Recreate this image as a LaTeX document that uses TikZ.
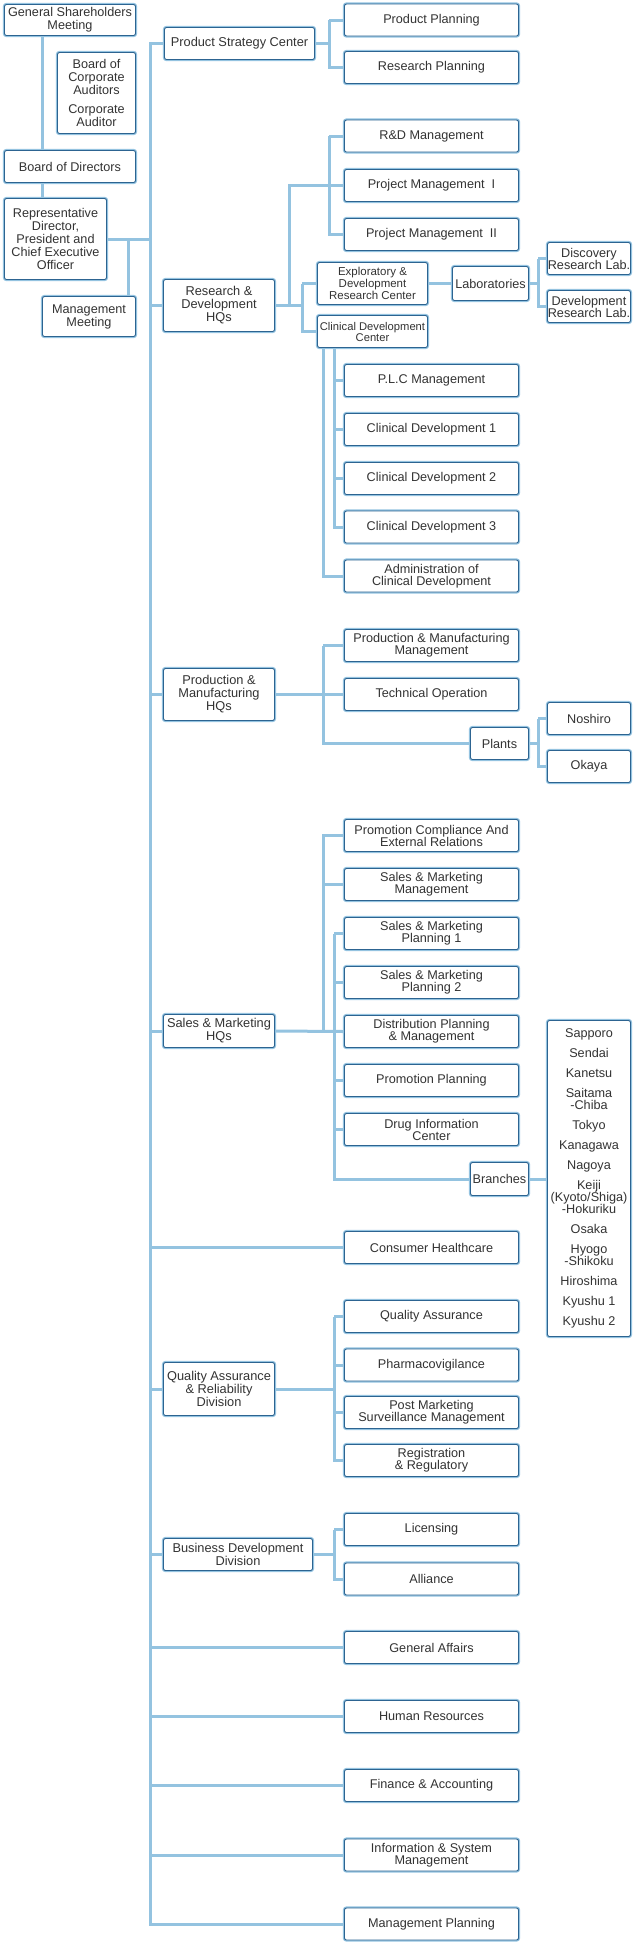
\documentclass[tikz,border=0pt]{standalone}
\usepackage{fontspec}
\setmainfont{Liberation Sans}
\usepackage{tikz}
\definecolor{orgline}{RGB}{148,195,224}
\definecolor{orgedge}{RGB}{45,100,145}
\definecolor{orgtext}{RGB}{51,51,51}
\begin{document}
\begin{tikzpicture}[
  x=0.75pt, y=-0.75pt,
  sz/.style 2 args={minimum width=#1*0.75pt, minimum height=#2*0.75pt},
  unit/.style={draw=orgedge, line width=0.7pt, preaction={draw=orgline, line width=2.4pt}, fill=white, rounded corners=1.5pt, text=orgtext, align=center, inner sep=0pt, font=\fontsize{9.5}{9}\selectfont},
  top/.style={unit, font=\fontsize{9.5}{9.75}\selectfont},
  hq/.style={unit, font=\fontsize{9.6}{9.75}\selectfont},
  dept/.style={unit, sz={174}{32}},
  small/.style={unit, font=\fontsize{8.6}{7.5}\selectfont},
  conn/.style={draw=orgline, line width=2.25pt}
]
\useasboundingbox (0,0) rectangle (634,1943);
\node[top, sz={131}{31}] (gsm) at (70,20) {General Shareholders\\Meeting};
\node[top, sz={78}{81}] (bca) at (96.5,93) {Board of\\Corporate\\Auditors\\[4pt]Corporate\\Auditor};
\node[top, sz={131}{32}] (bod) at (70,166.5) {Board of Directors};
\node[top, sz={102}{81}] (rd) at (55.5,239) {Representative\\Director,\\President and\\Chief Executive\\Officer};
\node[top, sz={93}{40}] (mm) at (89,316.5) {Management\\Meeting};
\node[hq, sz={150}{32}] (psc) at (239.5,43.5) {Product Strategy Center};
\node[dept] (pp) at (431.5,20) {Product Planning};
\node[dept] (rp) at (431.5,67.5) {Research Planning};
\node[hq, sz={111}{52}] (rnd) at (219,305.5) {Research \&\\Development\\HQs};
\node[dept] (rdm) at (431.5,136) {R\&D Management};
\node[dept] (pm1) at (431.5,185.5) {Project Management~~I};
\node[dept] (pm2) at (431.5,234.5) {Project Management~~II};
\node[small, sz={110}{42}] (edrc) at (372.5,283.5) {Exploratory \&\\Development\\Research Center};
\node[unit, font=\fontsize{8.4}{8.25}\selectfont, sz={110}{32}] (cdc) at (372.5,331.5) {Clinical Development\\Center};
\node[unit, sz={76}{34}] (labs) at (490.5,283.5) {Laboratories};
\node[unit, sz={83}{32}] (drl) at (589,258.5) {Discovery\\Research Lab.};
\node[unit, sz={83}{32}] (devl) at (589,306.5) {Development\\Research Lab.};
\node[dept] (plc) at (431.5,380.5) {P.L.C Management};
\node[dept] (cd1) at (431.5,429.5) {Clinical Development 1};
\node[dept] (cd2) at (431.5,478.5) {Clinical Development 2};
\node[dept] (cd3) at (431.5,527) {Clinical Development 3};
\node[dept] (acd) at (431.5,576) {Administration of\\Clinical Development};
\node[hq, sz={111}{52}] (pmhq) at (219,694.5) {Production \&\\Manufacturing\\HQs};
\node[dept] (pmm) at (431.5,645.5) {Production \& Manufacturing\\Management};
\node[dept] (tec) at (431.5,694.5) {Technical Operation};
\node[unit, sz={58}{32}] (plants) at (499.5,743.5) {Plants};
\node[unit, sz={83}{32}] (nos) at (589,718.5) {Noshiro};
\node[unit, sz={83}{32}] (oka) at (589,766.5) {Okaya};
\node[hq, sz={111}{33}] (smhq) at (219,1031) {Sales \& Marketing\\HQs};
\node[dept] (pcer) at (431.5,835.5) {Promotion Compliance And\\External Relations};
\node[dept] (smm) at (431.5,884.5) {Sales \& Marketing\\Management};
\node[dept] (smp1) at (431.5,933.5) {Sales \& Marketing\\Planning 1};
\node[dept] (smp2) at (431.5,982.5) {Sales \& Marketing\\Planning 2};
\node[dept] (dpm) at (431.5,1031.5) {Distribution Planning\\\& Management};
\node[dept] (ppl) at (431.5,1080.5) {Promotion Planning};
\node[dept] (dic) at (431.5,1129.5) {Drug Information\\Center};
\node[unit, sz={58}{33}] (branches) at (499.5,1179) {Branches};
\node[unit, sz={83}{316}] (blist) at (589,1178.5) {Sapporo\\[6pt]Sendai\\[6pt]Kanetsu\\[6pt]Saitama\\-Chiba\\[6pt]Tokyo\\[6pt]Kanagawa\\[6pt]Nagoya\\[6pt]Keiji\\(Kyoto/Shiga)\\-Hokuriku\\[6pt]Osaka\\[6pt]Hyogo\\-Shikoku\\[6pt]Hiroshima\\[6pt]Kyushu 1\\[6pt]Kyushu 2};
\node[dept] (ch) at (431.5,1247.5) {Consumer Healthcare};
\node[hq, sz={111}{53}] (qard) at (219,1389) {Quality Assurance\\\& Reliability\\Division};
\node[dept] (qa) at (431.5,1316.5) {Quality Assurance};
\node[dept] (pv) at (431.5,1365) {Pharmacovigilance};
\node[dept] (pms) at (431.5,1412.5) {Post Marketing\\Surveillance Management};
\node[dept] (rr) at (431.5,1460.5) {Registration\\\& Regulatory};
\node[hq, sz={149}{32}] (bdd) at (238,1554.5) {Business Development\\Division};
\node[dept] (lic) at (431.5,1529.5) {Licensing};
\node[dept] (all) at (431.5,1579) {Alliance};
\node[dept] (ga) at (431.5,1647.5) {General Affairs};
\node[dept] (hr) at (431.5,1716.5) {Human Resources};
\node[dept] (fa) at (431.5,1785.5) {Finance \& Accounting};
\node[dept] (ism) at (431.5,1855) {Information \& System\\Management};
\node[dept] (mp) at (431.5,1924) {Management Planning};
\coordinate (gsmx) at (42,0);
\coordinate (trunk) at (150,43.5);
\coordinate (mmjoin) at (128,239);
\coordinate (pscbus) at (329,43.5);
\coordinate (rndup) at (289,305.5);
\coordinate (rndbus) at (329,185.5);
\coordinate (rndsub) at (302,305.5);
\coordinate (labbus) at (538,283.5);
\coordinate (cdcbusa) at (323,331.5);
\coordinate (cdcbusb) at (334,331.5);
\coordinate (pmbus) at (323,694.5);
\coordinate (plantbus) at (538,743.5);
\coordinate (smbusa) at (323,1031);
\coordinate (smbusb) at (334,1031);
\coordinate (qabus) at (334,1389);
\coordinate (bddbus) at (334,1554.5);
\draw[conn] (gsm.south -| gsmx) -- (bod.north -| gsmx);
\draw[conn] (bod.south -| gsmx) -- (rd.north -| gsmx);
\draw[conn] (rd.east) -- (rd.east -| trunk);
\draw[conn] (mmjoin) -- (mmjoin |- mm.north);
\draw[conn] (psc.west) -- (trunk) -- (trunk |- mp.west) -- (mp.west);
\foreach \n in {rnd,pmhq,smhq,ch,qard,bdd,ga,hr,fa,ism}
  \draw[conn] (trunk |- \n.west) -- (\n.west);
\draw[conn] (psc.east) -- (pscbus);
\draw[conn] (pscbus |- pp.west) -- (pp.west);
\draw[conn] (pscbus |- pp.west) |- (rp.west);
\draw[conn] (rnd.east) -- (rndsub);
\draw[conn] (rndup) |- (rndbus) -- (pm1.west);
\draw[conn] (rndbus |- rdm.west) -- (rdm.west);
\draw[conn] (rndbus |- rdm.west) |- (pm2.west);
\draw[conn] (rndsub |- edrc.west) -- (edrc.west);
\draw[conn] (rndsub |- edrc.west) |- (cdc.west);
\draw[conn] (edrc.east) -- (labs.west);
\draw[conn] (labs.east) -- (labbus);
\draw[conn] (labbus |- drl.west) -- (drl.west);
\draw[conn] (labbus |- drl.west) |- (devl.west);
\draw[conn] (cdcbusa |- cdc.south) |- (acd.west);
\draw[conn] (cdcbusb |- cdc.south) |- (cd3.west);
\foreach \n in {plc,cd1,cd2}
  \draw[conn] (cdcbusb |- \n.west) -- (\n.west);
\draw[conn] (pmhq.east) -- (tec.west);
\draw[conn] (pmbus |- pmm.west) -- (pmm.west);
\draw[conn] (pmbus |- pmm.west) |- (plants.west);
\draw[conn] (plants.east) -- (plantbus);
\draw[conn] (plantbus |- nos.west) -- (nos.west);
\draw[conn] (plantbus |- nos.west) |- (oka.west);
\draw[conn] (smhq.east) -- (dpm.west);
\draw[conn] (smbusa) |- (pcer.west);
\draw[conn] (smbusa |- smm.west) -- (smm.west);
\draw[conn] (smbusb |- smp1.west) |- (branches.west);
\foreach \n in {smp1,smp2,ppl,dic}
  \draw[conn] (smbusb |- \n.west) -- (\n.west);
\draw[conn] (branches.east) -- (branches.east -| blist.west);
\draw[conn] (qard.east) -- (qabus);
\draw[conn] (qabus |- qa.west) -- (qa.west);
\draw[conn] (qabus |- qa.west) |- (rr.west);
\foreach \n in {pv,pms}
  \draw[conn] (qabus |- \n.west) -- (\n.west);
\draw[conn] (bdd.east) -- (bddbus);
\draw[conn] (bddbus |- lic.west) -- (lic.west);
\draw[conn] (bddbus |- lic.west) |- (all.west);
\end{tikzpicture}
\end{document}
